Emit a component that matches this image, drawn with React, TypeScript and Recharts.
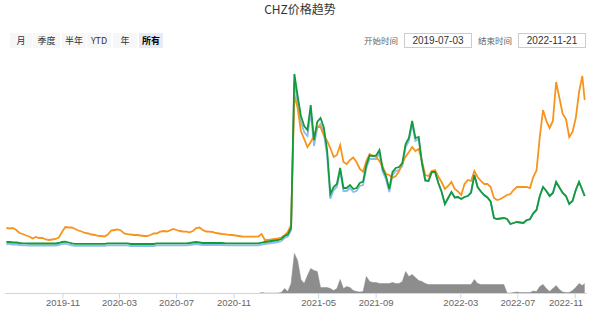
import React from 'react';
import { ComposedChart, Line, Area, XAxis, YAxis } from 'recharts';

const DAY = 86400000;
const START = Date.UTC(2019, 6, 3);
const END = Date.UTC(2022, 10, 21);
// weekly trading dates from 2019-07-03, plus the last day 2022-11-21
const dates: number[] = [...Array.from({ length: 177 }, (_, i) => START + i * 7 * DAY), END];

const tickDates = ['2019-11-01', '2020-03-01', '2020-07-01', '2020-11-01', '2021-05-01', '2021-09-01', '2022-03-01', '2022-07-01', '2022-11-01'];

const rangeButtons = ['月', '季度', '半年', 'YTD', '年', '所有'];
const startLabel = '开始时间';
const endLabel = '结束时间';
const startText = '2019-07-03';
const endText = '2022-11-21';
const title = 'CHZ价格趋势';

// index values
const orangeSeries = [
  22, 21.5, 22, 20, 17, 16, 14.5, 13.5, 11.5, 13,
  12, 12, 10.5, 10, 10.5, 11, 12.5, 18, 23, 22.5,
  22.5, 21, 19.5, 18.5, 17, 16.5, 15.5, 15, 14.2, 14,
  13.5, 15.5, 19.5, 20, 20.5, 19.5, 16.5, 15.8, 15.5, 15,
  15, 14.5, 14, 14, 15, 16.5, 16.7, 18.3, 19, 18.5,
  19.7, 21, 20, 19, 18.5, 18.3, 17.7, 19, 22, 22.5,
  20, 18.5, 18.3, 18, 17, 16.5, 16, 15.7, 15.2, 15,
  14.5, 14, 13.5, 13.3, 13.3, 13.3, 13.3, 13.5, 16, 10,
  10.2, 10.7, 11.2, 11.7, 12.5, 14.8, 18, 25, 155, 142,
  119, 111, 103, 108, 114, 123, 123, 114.5, 109, 102,
  93, 95, 105, 88, 86, 90, 92.5, 88, 81, 78.3,
  89, 96, 94, 93, 89, 83, 76, 75, 72, 74,
  79, 87, 93.3, 98, 103, 99, 101, 89, 75, 74,
  79, 80, 73.3, 68, 61, 64, 68, 61, 58.5, 55,
  66, 70, 69, 79, 73, 69, 66, 66, 63, 52,
  50, 51, 53, 55, 56, 60, 63, 63, 63, 63,
  62, 73, 79.5, 113, 140, 129, 122, 129, 168, 152,
  136, 131, 113, 118, 132, 158, 174, 150,
];

const greenSeries = [
  8, 8, 7.5, 7.5, 7, 6.7, 6.7, 6.5, 6.5, 6.5,
  6.5, 6.5, 6.5, 6.5, 6.5, 6.5, 7, 8, 8.3, 7.5,
  6.7, 6.2, 6.2, 6.2, 6.2, 6.2, 6.2, 6.2, 6.2, 6.2,
  6.2, 6.7, 6.7, 6.7, 6.7, 6.7, 6.7, 6.7, 6, 6,
  6, 6, 6, 6, 6, 6, 6.7, 6.7, 6.7, 6.7,
  6.7, 6.7, 6.7, 6.7, 6.7, 6.7, 7, 7.5, 8, 7.5,
  7, 7, 7, 7, 7, 7, 7, 6.7, 6.7, 6.7,
  6.7, 6.7, 6.7, 6.7, 6.7, 6.7, 6.7, 6.7, 7.3, 8,
  8.5, 9, 9.5, 10, 11, 14, 15.5, 22, 176, 154,
  134, 124, 120, 145, 110, 128, 132, 122.5, 100, 56,
  63, 66, 82, 62, 62, 65, 61, 62, 67, 68.3,
  85, 94.5, 94, 94.5, 100, 81, 74, 61, 78, 82,
  83, 87, 106, 112, 129, 112, 113, 87, 70, 69,
  78, 78, 67, 58.3, 46, 52, 58, 52.5, 53, 51,
  53, 54, 57.5, 75, 63, 58.5, 55, 52.5, 48.3, 32,
  31, 31.5, 32, 31, 26, 27, 28, 27.5, 27, 30,
  30.7, 36.7, 40, 54, 63, 59, 54, 57, 68, 62.5,
  57, 54, 46, 49, 60, 68, 60, 54,
];

const blueSeries = [
  6, 6, 5.5, 5.5, 5, 4.7, 4.7, 4.5, 4.5, 4.5,
  4.5, 4.5, 4.5, 4.5, 4.5, 4.5, 5, 6, 6.3, 5.5,
  4.7, 4.2, 4.2, 4.2, 4.2, 4.2, 4.2, 4.2, 4.2, 4.2,
  4.2, 4.7, 4.7, 4.7, 4.7, 4.7, 4.7, 4.7, 4, 4,
  4, 4, 4, 4, 4, 4, 4.7, 4.7, 4.7, 4.7,
  4.7, 4.7, 4.7, 4.7, 4.7, 4.7, 5, 5.5, 6, 5.5,
  5, 5, 5, 5, 5, 5, 5, 4.7, 4.7, 4.7,
  4.7, 4.7, 4.7, 4.7, 4.7, 4.7, 4.7, 4.7, 5.3, 6,
  6.5, 7, 7.5, 8, 9, 12, 13.5, 20, 168, 147,
  128, 118, 114, 138, 104, 122, 126, 117, 95, 51,
  60, 63, 79, 59, 59, 62, 58, 59, 64, 65,
  82, 91, 91, 91, 97, 78, 71, 58, 75, 79,
  80, 84, 103, 109, 126, 109, 111, 86, 69, 69,
  78, 78, 67, 58.3, 46, 52, 58, 52.5, 53, 51,
  53, 54, 57.5, 75, 63, 58.5, 55, 52.5, 48.3, 32,
  31, 31.5, 32, 31, 26, 27, 28, 27.5, 27, 30,
  30.7, 36.7, 40, 54, 63, 59, 54, 57, 68, 62.5,
  57, 54, 46, 49, 60, 68, 60, 54,
];

const volumeSeries = [
  0, 0, 0, 0, 0, 0, 0, 0, 0, 0,
  0, 0, 0, 0, 0, 0, 0, 0, 0, 0,
  0, 0, 0, 0, 0, 0, 0, 0, 0, 0,
  0, 0, 0, 0, 0, 0, 0, 0, 0, 0,
  0, 0, 0, 0, 0, 0, 0, 0, 0, 0,
  0, 0, 0, 0, 0, 0, 0, 0, 0, 0,
  0, 0, 0, 0, 0, 0, 0, 0, 0, 0,
  0, 0, 0, 0, 0, 0, 0, 0, 1, 0.5,
  0.5, 0.5, 0.5, 0.5, 1, 5, 2, 10, 40, 33,
  14, 10, 18, 25, 23, 22, 6, 6, 6, 5,
  3, 5, 14, 5, 7, 6, 3, 2, 1.5, 2,
  17, 12, 11, 11, 10, 10, 10, 10, 11, 10,
  10, 12, 22, 17, 19, 16, 13, 12, 10, 9,
  9, 9, 9, 9, 9, 9, 9, 9, 9, 9,
  9, 9, 9, 14, 10, 9, 9, 9, 9, 9,
  9, 9, 9, 0.5, 0.5, 1, 1.5, 1, 1, 1,
  1, 2.5, 2, 7, 9, 5, 2, 5, 8, 4,
  1.5, 1, 1, 3, 6, 10, 8, 10,
];

const data = dates.map((t, i) => ({
  t,
  blue: blueSeries[i],
  orange: orangeSeries[i],
  green: greenSeries[i],
  volume: volumeSeries[i],
}));

const ticks = tickDates.map((s) => Date.parse(s + 'T00:00:00Z'));
const fmt = (v: number) => {
  const d = new Date(v);
  return `${d.getUTCFullYear()}-${String(d.getUTCMonth() + 1).padStart(2, '0')}`;
};

const cjk = '"Noto Sans CJK SC", "Liberation Sans", sans-serif';
const latin = '"Liberation Sans", Arial, sans-serif';

const btnPos = [
  { left: 10, width: 22 },
  { left: 33, width: 27 },
  { left: 62, width: 24 },
  { left: 87, width: 24 },
  { left: 113, width: 24 },
  { left: 139, width: 24 },
];

// labels are kept inside the chart edge (justified like the original)
const AxisTick = (props: any) => {
  const { x, y, payload } = props;
  const half = 17;
  const cx = Math.min(x, 583 - half);
  return (
    <text x={cx} y={y} dy="0.71em" textAnchor="middle" fontSize={9.5} fill="#666" fontFamily={latin}>
      {fmt(payload.value)}
    </text>
  );
};

export default function App() {
  return (
    <div style={{ position: 'absolute', left: 0, top: 0, width: 600, height: 312, background: '#fff', overflow: 'hidden' }}>
      <ComposedChart
        width={600}
        height={312}
        data={data}
        margin={{ top: 70, right: 13, bottom: 0, left: 5 }}
      >
        <XAxis
          dataKey="t"
          type="number"
          scale="time"
          domain={[START - 3 * DAY, START + 1242 * DAY]}
          allowDataOverflow
          ticks={ticks}
          interval={0}
          tickFormatter={fmt}
          height={18.5}
          tickSize={5}
          tickMargin={1}
          axisLine={{ stroke: '#ccd6eb' }}
          tickLine={{ stroke: '#ccd6eb' }}
          tick={<AxisTick />}
        />
        <YAxis yAxisId="price" hide domain={[-43.5, 180]} allowDataOverflow />
        <YAxis yAxisId="vol" hide domain={[0, 223.5]} allowDataOverflow />
        <Area
          yAxisId="vol"
          dataKey="volume"
          type="linear"
          stroke="#8d8d8d"
          strokeWidth={0.5}
          fill="#8d8d8d"
          fillOpacity={1}
          dot={false}
          activeDot={false}
          isAnimationActive={false}
        />
        <Line yAxisId="price" dataKey="blue" type="linear" stroke="#8cbcf0" strokeWidth={1.8} dot={false} activeDot={false} isAnimationActive={false} />
        <Line yAxisId="price" dataKey="orange" type="linear" stroke="#f7941d" strokeWidth={1.8} dot={false} activeDot={false} isAnimationActive={false} />
        <Line yAxisId="price" dataKey="green" type="linear" stroke="#139a3b" strokeWidth={1.8} dot={false} activeDot={false} isAnimationActive={false} />
      </ComposedChart>

      <div style={{ position: 'absolute', left: 0, top: 1, width: 600, textAlign: 'center', fontFamily: cjk, fontSize: 12, color: '#333', lineHeight: '16px' }}>
        {title}
      </div>

      {rangeButtons.map((b, i) => {
        const sel = i === rangeButtons.length - 1;
        return (
          <div
            key={b}
            style={{
              position: 'absolute',
              top: 33,
              height: 15,
              left: btnPos[i].left,
              width: btnPos[i].width,
              background: sel ? '#e6ebf5' : '#f7f7f7',
              color: sel ? '#000' : '#333',
              fontWeight: sel ? 'bold' : 'normal',
              fontFamily: cjk,
              fontSize: 9,
              lineHeight: '15px',
              textAlign: 'center',
            }}
          >
            {b}
          </div>
        );
      })}

      <div style={{ position: 'absolute', left: 360, top: 33, width: 42, height: 15, lineHeight: '15px', fontFamily: cjk, fontSize: 8.5, color: '#666', textAlign: 'center' }}>{startLabel}</div>
      <div style={{ position: 'absolute', left: 404, top: 33, width: 66, height: 13, lineHeight: '13px', border: '1px solid #ccc', fontFamily: latin, fontSize: 10, color: '#333', textAlign: 'center' }}>{startText}</div>
      <div style={{ position: 'absolute', left: 474, top: 33, width: 42, height: 15, lineHeight: '15px', fontFamily: cjk, fontSize: 8.5, color: '#666', textAlign: 'center' }}>{endLabel}</div>
      <div style={{ position: 'absolute', left: 518, top: 33, width: 66, height: 13, lineHeight: '13px', border: '1px solid #ccc', fontFamily: latin, fontSize: 10, color: '#333', textAlign: 'center' }}>{endText}</div>
    </div>
  );
}
